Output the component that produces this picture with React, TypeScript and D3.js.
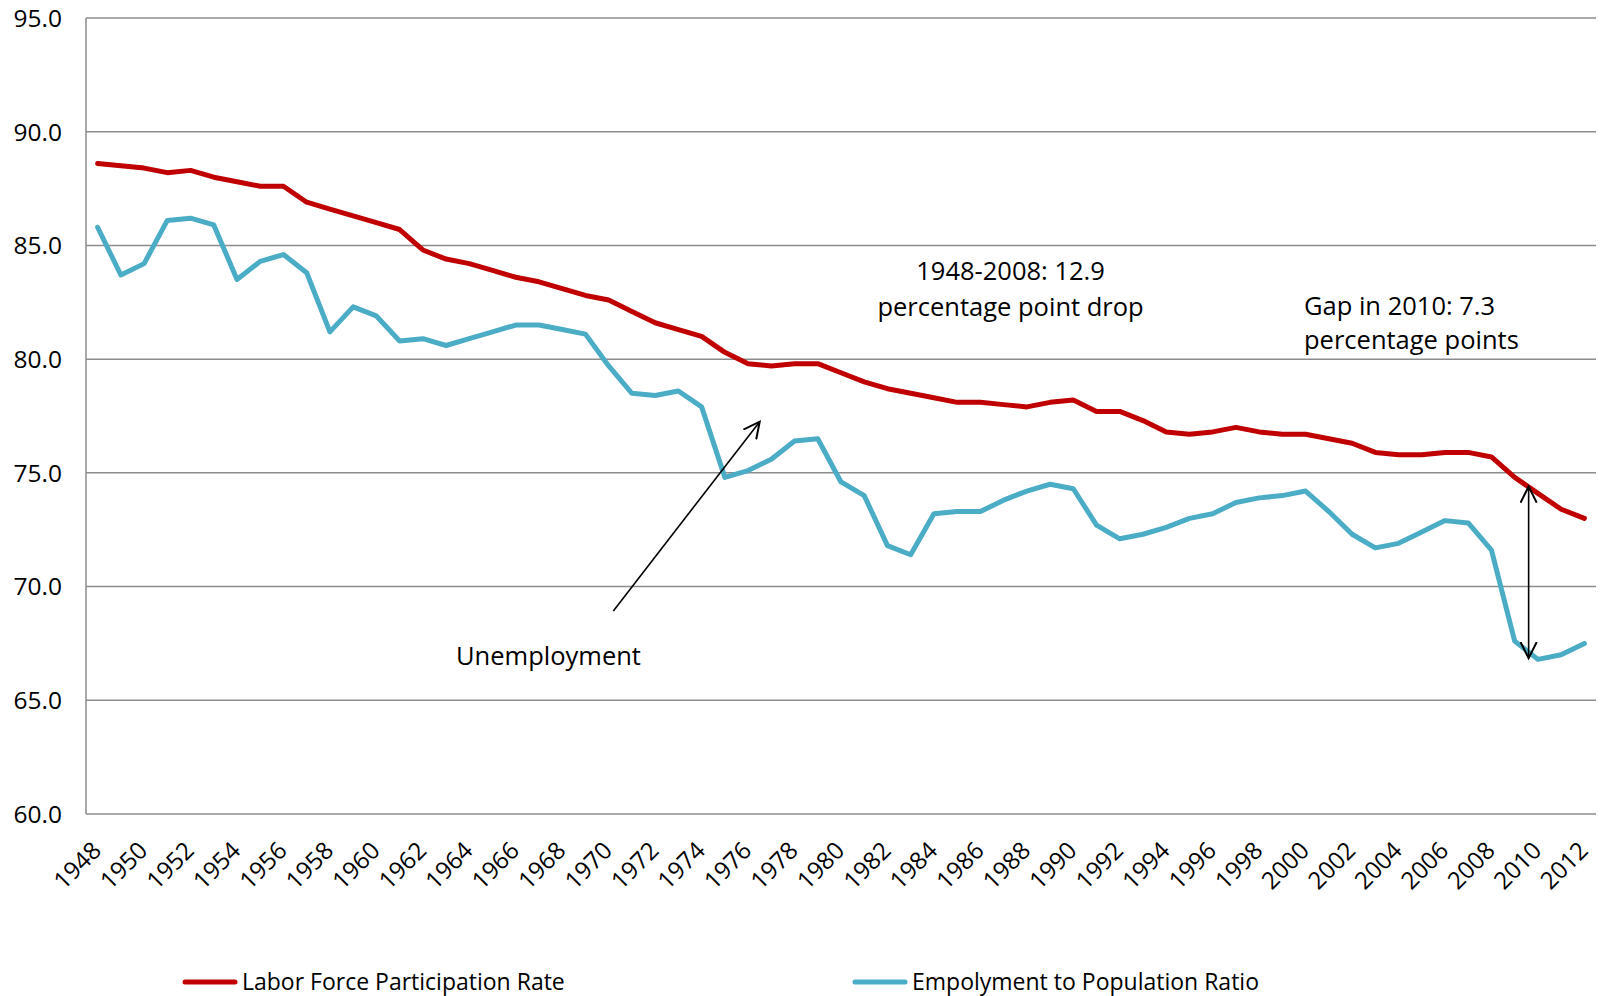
import React from 'react';
import * as d3 from 'd3';

// Years on the category axis
const years = d3.range(1948, 2013);

// Labor Force Participation Rate (red)
const lfpr = [
  88.6, 88.5, 88.4, 88.2, 88.3, 88.0, 87.8, 87.6, 87.6, 86.9,
  86.6, 86.3, 86.0, 85.7, 84.8, 84.4, 84.2, 83.9, 83.6, 83.4,
  83.1, 82.8, 82.6, 82.1, 81.6, 81.3, 81.0, 80.3, 79.8, 79.7,
  79.8, 79.8, 79.4, 79.0, 78.7, 78.5, 78.3, 78.1, 78.1, 78.0,
  77.9, 78.1, 78.2, 77.7, 77.7, 77.3, 76.8, 76.7, 76.8, 77.0,
  76.8, 76.7, 76.7, 76.5, 76.3, 75.9, 75.8, 75.8, 75.9, 75.9,
  75.7, 74.8, 74.1, 73.4, 73.0,
];

// Employment to Population Ratio (blue)
const epop = [
  85.8, 83.7, 84.2, 86.1, 86.2, 85.9, 83.5, 84.3, 84.6, 83.8,
  81.2, 82.3, 81.9, 80.8, 80.9, 80.6, 80.9, 81.2, 81.5, 81.5,
  81.3, 81.1, 79.7, 78.5, 78.4, 78.6, 77.9, 74.8, 75.1, 75.6,
  76.4, 76.5, 74.6, 74.0, 71.8, 71.4, 73.2, 73.3, 73.3, 73.8,
  74.2, 74.5, 74.3, 72.7, 72.1, 72.3, 72.6, 73.0, 73.2, 73.7,
  73.9, 74.0, 74.2, 73.3, 72.3, 71.7, 71.9, 72.4, 72.9, 72.8,
  71.6, 67.6, 66.8, 67.0, 67.5,
];

const yTicks = [60, 65, 70, 75, 80, 85, 90, 95];
const xTickYears = years.filter((y) => (y - 1948) % 2 === 0);

const FONT = '"Open Sans", "Noto Sans", sans-serif';

export default function App() {
  const width = 1605;
  const height = 996;
  const left = 86;
  const right = 1596;
  const top = 18;
  const bottom = 814;

  const x = d3.scaleLinear().domain([1947.5, 2012.5]).range([left, right]);
  const y = d3.scaleLinear().domain([60, 95]).range([bottom, top]);

  const line = d3
    .line<number>()
    .x((_, i) => x(years[i]))
    .y((d) => y(d));

  return (
    <svg
      width={width}
      height={height}
      style={{ position: 'absolute', left: 0, top: 0, background: '#fff' }}
      fontFamily={FONT}
    >
      <defs>
        <marker id="open2" viewBox="0 0 10 10" refX="9" refY="5" markerWidth="18" markerHeight="18"
          markerUnits="userSpaceOnUse" orient="auto-start-reverse">
          <path d="M0,0.5 L9,5 L0,9.5" fill="none" stroke="#000" strokeWidth="1.1" />
        </marker>
      </defs>

      {/* gridlines */}
      {yTicks.map((t) => (
        <line key={t} x1={left} x2={right} y1={y(t)} y2={y(t)} stroke="#8c8c8c" strokeWidth={1.5} />
      ))}
      <line x1={left} x2={left} y1={top} y2={bottom} stroke="#8c8c8c" strokeWidth={1.5} />

      {/* y tick labels */}
      {yTicks.map((t) => (
        <text key={t} x={left - 24} y={y(t)} dy="0.36em" textAnchor="end" fontSize={24.5} fill="#000">
          {t.toFixed(1)}
        </text>
      ))}

      {/* x tick labels */}
      {xTickYears.map((yr) => (
        <text
          key={yr}
          transform={`translate(${x(yr) + 5},${bottom + 38}) rotate(-45)`}
          textAnchor="end"
          fontSize={24}
          fill="#000"
        >
          {yr}
        </text>
      ))}

      {/* series */}
      <path d={line(lfpr) ?? ''} fill="none" stroke="#C00000" strokeWidth={5} strokeLinejoin="round" strokeLinecap="round" />
      <path d={line(epop) ?? ''} fill="none" stroke="#4BACC6" strokeWidth={5} strokeLinejoin="round" strokeLinecap="round" />

      {/* annotations */}
      <text x={x(1987.3)} y={280} textAnchor="middle" fontSize={25.5}>1948-2008: 12.9</text>
      <text x={x(1987.3)} y={316} textAnchor="middle" fontSize={25.5}>percentage point drop</text>
      <text x={1304} y={315} fontSize={25.5}>Gap in 2010: 7.3</text>
      <text x={1304} y={349} fontSize={25.5}>percentage points</text>
      <text x={456} y={665} fontSize={25.5}>Unemployment</text>

      <line x1={x(1970.2)} y1={y(68.93)} x2={x(1976.5)} y2={y(77.25)} stroke="#000" strokeWidth={1.6}
        markerEnd="url(#open2)" />
      <line x1={x(2009.6)} y1={y(74.4)} x2={x(2009.6)} y2={y(66.85)} stroke="#000" strokeWidth={1.6}
        markerStart="url(#open2)" markerEnd="url(#open2)" />

      {/* legend */}
      <line x1={185} x2={235} y1={982} y2={982} stroke="#C00000" strokeWidth={5} strokeLinecap="round" />
      <text x={242} y={990} fontSize={23}>Labor Force Participation Rate</text>
      <line x1={855} x2={905} y1={982} y2={982} stroke="#4BACC6" strokeWidth={5} strokeLinecap="round" />
      <text x={912} y={990} fontSize={23}>Empolyment to Population Ratio</text>
    </svg>
  );
}
